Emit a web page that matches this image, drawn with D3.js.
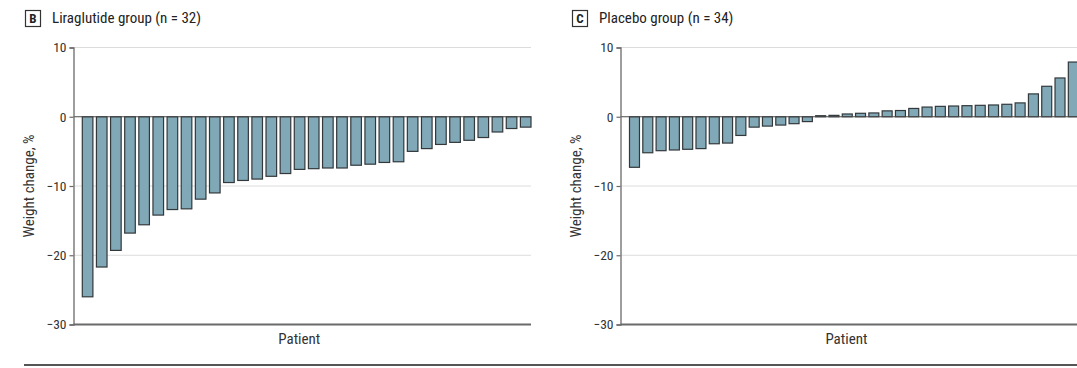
<!DOCTYPE html>
<html>
<head>
<meta charset="utf-8">
<script src="https://cdn.jsdelivr.net/npm/d3@7"></script>
<style>
  html, body { margin: 0; padding: 0; background: #fff; }
  svg { display: block; font-family: "Liberation Sans Narrow", "Roboto Condensed", "DejaVu Sans", sans-serif; }
</style>
</head>
<body>
<svg id="chart" width="1077" height="368"></svg>
<script>
// Per-patient weight change (%) sorted from largest loss to largest gain
const liraglutideChange = [
  -26.0, -21.7, -19.3, -16.8, -15.6, -14.2, -13.4, -13.3, -11.9, -11.0,
  -9.5, -9.2, -9.0, -8.6, -8.2, -7.6, -7.5, -7.4, -7.4, -7.0,
  -6.85, -6.6, -6.5, -5.0, -4.6, -4.0, -3.7, -3.4, -3.0, -2.2,
  -1.7, -1.5
];
const placeboChange = [
  -7.3, -5.2, -4.9, -4.8, -4.7, -4.6, -3.9, -3.8, -2.7, -1.5,
  -1.35, -1.2, -1.0, -0.7, 0.15, 0.2, 0.4, 0.5, 0.55, 0.85,
  0.9, 1.2, 1.4, 1.5, 1.55, 1.6, 1.65, 1.7, 1.8, 2.0,
  3.3, 4.4, 5.6, 7.9
];
const panelLetters = ["B", "C"];
const panelTitles = ["Liraglutide group (n = 32)", "Placebo group (n = 34)"];
const yTicks = [10, 0, -10, -20, -30];
const yDomain = [-30, 10];
const yLabel = "Weight change, %";
const xLabel = "Patient";

const svg = d3.select("#chart");

const panels = [
  { letter: panelLetters[0], title: panelTitles[0], data: liraglutideChange, axisX: 73.5, x0: 82.3, x1: 531, boxX: 25 },
  { letter: panelLetters[1], title: panelTitles[1], data: placeboChange, axisX: 620.5, x0: 629.5, x1: 1078.3, boxX: 572 }
];

const yTop = 47.5, yBottom = 324.5;
const y = d3.scaleLinear().domain(yDomain).range([yBottom, yTop]);

panels.forEach(p => {
  const g = svg.append("g");
  const plotRight = p.x1;

  // panel letter box and title
  g.append("rect")
    .attr("x", p.boxX + 0.5).attr("y", 10.5)
    .attr("width", 15).attr("height", 16)
    .attr("fill", "#fff").attr("stroke", "#333").attr("stroke-width", 1.2);
  g.append("text")
    .attr("x", p.boxX + 8).attr("y", 23)
    .attr("text-anchor", "middle")
    .attr("font-size", 13).attr("font-weight", "bold").attr("fill", "#222")
    .text(p.letter);
  g.append("text")
    .attr("x", p.boxX + 27).attr("y", 23)
    .attr("font-size", 15).attr("fill", "#222")
    .text(p.title);

  // light gridlines
  g.selectAll("line.grid")
    .data(yTicks.filter(t => t !== 0 && t !== yDomain[0]))
    .join("line")
    .attr("class", "grid")
    .attr("x1", p.axisX).attr("x2", plotRight)
    .attr("y1", d => y(d)).attr("y2", d => y(d))
    .attr("stroke", "#dcdcdc").attr("stroke-width", 1);

  // bars
  const x = d3.scaleBand()
    .domain(d3.range(p.data.length))
    .range([p.x0, p.x1])
    .paddingInner(0.25)
    .paddingOuter(0);

  g.selectAll("rect.bar")
    .data(p.data)
    .join("rect")
    .attr("class", "bar")
    .attr("x", (d, i) => x(i))
    .attr("width", x.bandwidth())
    .attr("y", d => y(Math.max(0, d)))
    .attr("height", d => Math.abs(y(d) - y(0)))
    .attr("fill", "#80a8b6")
    .attr("stroke", "#33383b")
    .attr("stroke-width", 1.2);

  // zero line
  g.append("line")
    .attr("x1", p.axisX).attr("x2", plotRight)
    .attr("y1", y(0)).attr("y2", y(0))
    .attr("stroke", "#4a4a4a").attr("stroke-width", 1.2);

  // bottom baseline at -30
  g.append("line")
    .attr("x1", p.axisX).attr("x2", plotRight)
    .attr("y1", y(yDomain[0])).attr("y2", y(yDomain[0]))
    .attr("stroke", "#6a6a6a").attr("stroke-width", 2);

  // y axis
  const axis = d3.axisLeft(y).tickValues(yTicks).tickSize(4).tickPadding(3)
    .tickFormat(d => d3.format("d")(d));
  const ag = g.append("g")
    .attr("transform", `translate(${p.axisX},0)`)
    .call(axis);
  ag.select(".domain").attr("stroke", "#6a6a6a").attr("stroke-width", 1.3);
  ag.selectAll(".tick line").attr("stroke", "#6a6a6a").attr("stroke-width", 1.2);
  ag.selectAll(".tick text")
    .attr("font-size", 13.5).attr("fill", "#333")
    .attr("font-family", "Liberation Sans Narrow, Roboto Condensed, DejaVu Sans, sans-serif");

  // axis titles
  g.append("text")
    .attr("transform", `translate(${p.axisX - 40},${(yTop + yBottom) / 2}) rotate(-90)`)
    .attr("text-anchor", "middle")
    .attr("font-size", 15).attr("fill", "#333")
    .text(yLabel);
  g.append("text")
    .attr("x", (p.axisX + p.x1) / 2 - 3).attr("y", 344)
    .attr("text-anchor", "middle")
    .attr("font-size", 15).attr("fill", "#333")
    .text(xLabel);
});

// rule under the figure
svg.append("line")
  .attr("x1", 24).attr("x2", 1077)
  .attr("y1", 365).attr("y2", 365)
  .attr("stroke", "#555").attr("stroke-width", 2);
</script>
</body>
</html>
